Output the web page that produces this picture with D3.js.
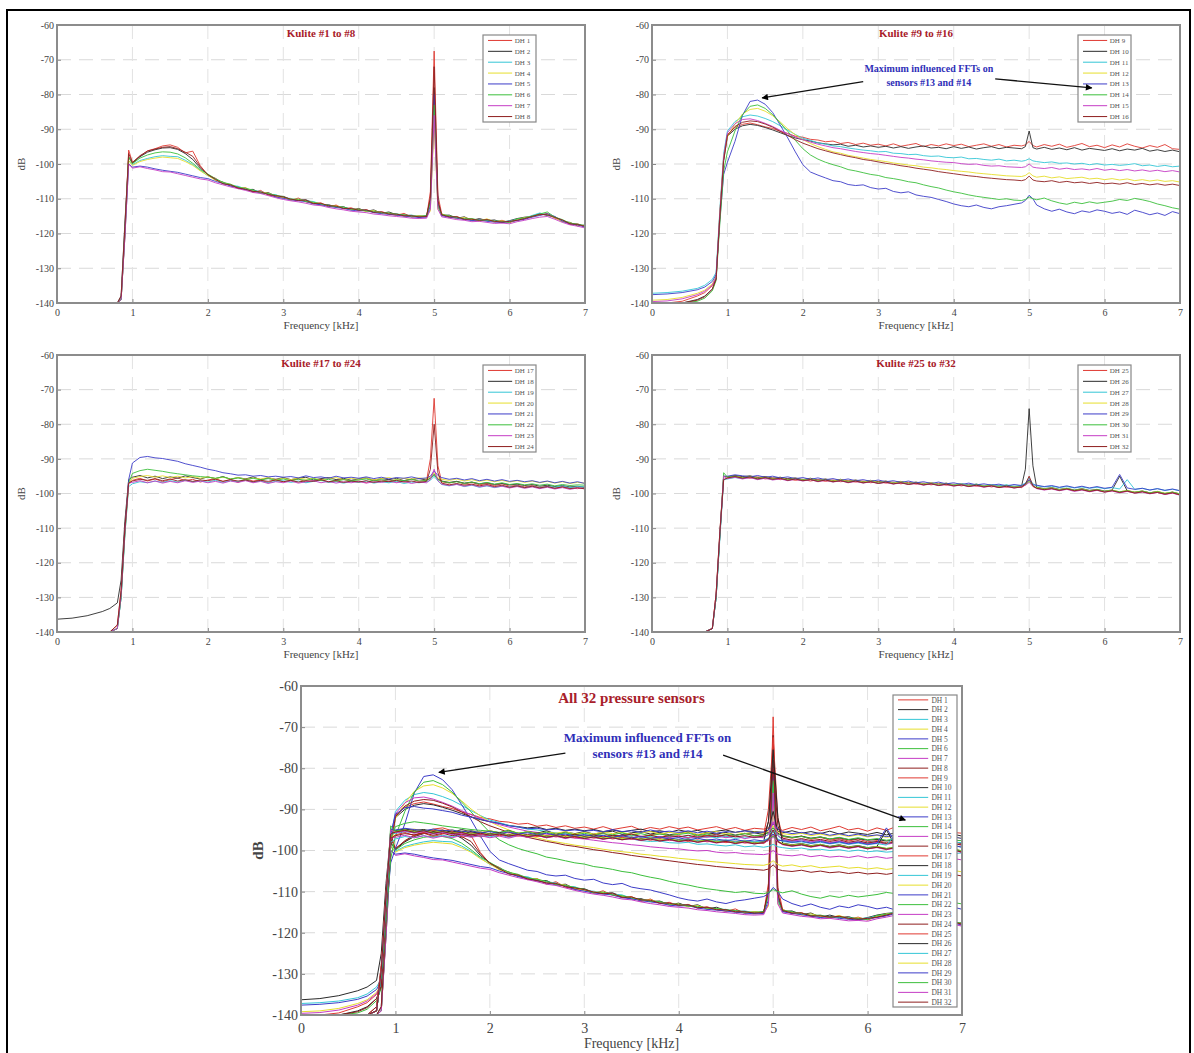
<!DOCTYPE html>
<html>
<head>
<meta charset="UTF-8">
<title>Kulite pressure sensor FFTs</title>
<script src="https://d3js.org/d3.v7.min.js"></script>
<style>
body { margin: 0; background: #fff; }
svg text { font-family: "Liberation Serif", "DejaVu Serif", serif; }
</style>
</head>
<body>
<figure class=chart style="margin:0"></figure>

<script type="text/javascript">

/* Data : frequency grid (kHz) and FFT level (dB) of every sensor on it */
var freqKHz = [0, 0.2, 0.4, 0.6, 0.7, 0.8, 0.85, 0.9, 0.95,
	1.0, 1.1, 1.2, 1.3, 1.4, 1.5, 1.6, 1.7, 1.8, 1.9,
	2.0, 2.1, 2.2, 2.3, 2.4, 2.5, 2.6, 2.7, 2.8, 2.9,
	3.0, 3.1, 3.2, 3.3, 3.4, 3.5, 3.6, 3.7, 3.8, 3.9,
	4.0, 4.1, 4.2, 4.3, 4.4, 4.5, 4.6, 4.7, 4.8,
	4.9, 4.95, 5.0, 5.05,
	5.1, 5.2, 5.3, 5.4, 5.5, 5.6, 5.7, 5.8, 5.9, 6.0,
	6.1, 6.2, 6.3, 6.4, 6.5, 6.6, 6.7, 6.8, 6.9, 7.0];

// Kulite #1 to #8
var dh1 = [-140,-140,-140,-140,-140,-140,-139,-120,-96,
	-99.5,-97.8,-96.2,-95.6,-94.8,-94.5,-95.2,-96.8,-96.3,-100.5,
	-103.2,-104.1,-105.6,-105.9,-107.1,-106.8,-108.2,-107.6,-108.9,-109.4,
	-109.6,-110.4,-109.8,-110.9,-111.3,-111.2,-112.4,-111.8,-112.9,-112.6,
	-113.4,-113.1,-114.0,-113.7,-114.3,-114.8,-114.2,-115.3,-114.9,
	-115.2,-108.0,-67.5,-109.0,
	-114.3,-115.4,-115.1,-116.0,-115.8,-116.4,-115.9,-116.7,-116.2,-116.9,
	-116.1,-115.8,-114.9,-114.7,-114.2,-115.6,-116.3,-117.4,-117.2,-118.1];
var dh2 = [-140,-140,-140,-140,-140,-140,-138,-117,-98,
	-99.8,-97.9,-96.6,-95.9,-95.4,-95.3,-95.8,-97.0,-98.7,-101.2,
	-103.0,-104.6,-105.2,-106.3,-106.6,-107.4,-107.3,-108.4,-108.2,-109.3,
	-109.3,-110.2,-110.4,-110.3,-111.2,-111.8,-111.7,-112.4,-112.3,-113.2,
	-112.8,-113.6,-113.2,-114.2,-113.8,-114.6,-114.7,-114.8,-115.3,
	-114.8,-110.5,-78.0,-111.0,
	-114.8,-114.7,-115.6,-115.2,-116.2,-115.7,-116.3,-116.1,-116.8,-116.3,
	-115.7,-115.3,-115.1,-114.3,-114.8,-115.2,-116.6,-116.8,-117.8,-117.6];
var dh3 = [-140,-140,-140,-140,-140,-140,-139,-119,-99,
	-100.2,-99.0,-98.4,-97.9,-97.6,-97.8,-97.9,-98.9,-100.2,-101.8,
	-103.4,-104.3,-105.4,-106.2,-106.4,-107.2,-107.6,-107.9,-108.7,-108.8,
	-109.8,-109.9,-110.3,-110.6,-110.8,-111.6,-111.9,-112.2,-112.6,-112.9,
	-113.2,-113.3,-113.8,-113.9,-114.4,-114.3,-115.0,-114.7,-115.1,
	-115.0,-113.0,-85.0,-112.5,
	-114.6,-115.2,-115.4,-115.7,-116.1,-116.0,-116.2,-116.4,-116.6,-116.4,
	-115.9,-115.6,-114.8,-114.1,-114.6,-115.4,-116.2,-117.1,-117.4,-117.9];
var dh4 = [-140,-140,-140,-140,-140,-140,-139,-121,-99,
	-100.4,-99.3,-98.7,-98.3,-98.0,-98.2,-98.4,-99.3,-100.4,-102.0,
	-103.3,-104.7,-105.3,-106.0,-106.8,-106.9,-107.8,-108.1,-108.4,-109.2,
	-109.7,-110.1,-110.2,-110.7,-111.1,-111.4,-112.1,-112.0,-112.7,-113.1,
	-113.0,-113.7,-113.4,-114.1,-114.2,-114.6,-114.9,-115.1,-114.9,
	-115.1,-113.5,-88.0,-113.0,
	-114.4,-115.1,-115.7,-115.4,-116.0,-116.3,-115.8,-116.6,-116.4,-116.7,
	-116.0,-115.4,-115.2,-114.6,-114.4,-115.5,-116.5,-116.9,-117.6,-117.8];
var dh5 = [-140,-140,-140,-140,-140,-140,-139,-121,-100,
	-100.9,-100.6,-100.9,-101.4,-101.8,-102.1,-102.4,-102.9,-103.4,-103.9,
	-104.2,-105.0,-105.6,-106.3,-106.9,-107.3,-107.9,-108.3,-108.6,-109.5,
	-109.9,-110.3,-110.6,-110.8,-111.5,-111.7,-112.2,-112.5,-112.8,-113.3,
	-113.5,-113.4,-114.0,-114.3,-114.5,-114.7,-115.0,-115.2,-115.4,
	-115.3,-112.0,-80.0,-111.5,
	-114.9,-115.3,-115.6,-116.0,-116.3,-116.1,-116.5,-116.7,-116.9,-116.6,
	-116.3,-115.9,-115.3,-114.8,-114.3,-115.1,-116.4,-117.2,-117.5,-118.2];
var dh6 = [-140,-140,-140,-140,-140,-140,-139,-120,-98,
	-99.9,-98.3,-97.4,-96.8,-96.5,-96.6,-97.1,-98.2,-99.8,-101.6,
	-102.9,-104.2,-105.3,-105.8,-106.7,-107.0,-107.5,-108.3,-108.5,-109.0,
	-109.4,-110.3,-110.1,-110.8,-111.0,-111.5,-111.9,-112.3,-112.4,-113.0,
	-113.1,-113.5,-113.6,-114.0,-114.1,-114.4,-114.6,-115.0,-115.0,
	-114.9,-111.0,-83.0,-112.0,
	-114.5,-114.9,-115.3,-115.8,-115.7,-116.2,-116.1,-116.4,-116.5,-116.8,
	-115.8,-115.5,-115.0,-114.4,-113.8,-115.3,-116.0,-117.0,-117.3,-117.7];
var dh7 = [-140,-140,-140,-140,-140,-140,-139,-121,-100,
	-101.2,-100.8,-101.3,-101.7,-102.2,-102.3,-102.8,-103.3,-103.8,-104.3,
	-104.6,-105.4,-106.0,-106.6,-107.1,-107.6,-108.2,-108.5,-109.1,-109.7,
	-110.2,-110.6,-110.9,-111.3,-111.8,-112.0,-112.5,-112.9,-113.2,-113.6,
	-113.8,-114.0,-114.4,-114.6,-114.9,-115.1,-115.3,-115.6,-115.7,
	-115.6,-113.0,-86.0,-113.0,
	-115.2,-115.6,-116.0,-116.2,-116.6,-116.5,-116.8,-117.1,-117.0,-117.2,
	-116.6,-116.2,-115.7,-115.3,-115.1,-115.9,-116.8,-117.5,-117.9,-118.4];
var dh8 = [-140,-140,-140,-140,-140,-140,-138,-118,-97,
	-99.6,-97.6,-96.3,-95.7,-95.2,-95.0,-95.6,-96.6,-97.8,-100.8,
	-103.1,-104.4,-105.7,-106.0,-106.9,-107.3,-107.9,-108.0,-108.8,-109.1,
	-109.5,-110.1,-110.5,-110.4,-111.4,-111.3,-112.0,-112.1,-112.8,-112.8,
	-113.3,-113.2,-113.9,-113.8,-114.4,-114.4,-114.9,-114.9,-115.2,
	-115.1,-109.5,-72.0,-110.5,
	-114.6,-115.2,-115.2,-115.9,-115.9,-116.2,-116.0,-116.5,-116.7,-116.5,
	-116.2,-115.7,-115.1,-114.5,-114.6,-115.4,-116.1,-117.2,-117.4,-117.9];

// Kulite #9 to #16
var dh9 = [-140,-140,-139.5,-138,-137,-135,-133,-115,-98,
	-91.5,-89.5,-88.6,-88.2,-88.7,-89.3,-89.8,-90.6,-91.2,-92.0,
	-92.3,-92.9,-93.1,-93.6,-93.4,-94.1,-93.8,-94.4,-94.0,-94.6,
	-94.3,-94.8,-94.2,-94.9,-94.5,-94.1,-95.0,-94.4,-94.8,-94.2,
	-94.7,-94.3,-95.0,-94.6,-94.2,-94.9,-94.4,-95.1,-94.6,
	-94.8,-94.5,-93.5,-94.7,
	-95.1,-94.4,-94.9,-94.3,-95.2,-94.7,-94.1,-95.0,-94.6,-95.3,
	-94.5,-95.1,-94.2,-94.9,-95.4,-94.7,-95.2,-94.4,-95.6,-95.8];
var dh10 = [-140,-140,-140,-139,-138,-136,-133,-114,-99,
	-92.0,-90.0,-89.0,-88.6,-88.9,-89.5,-90.2,-91.0,-91.8,-92.5,
	-93.0,-93.4,-93.9,-94.2,-94.5,-94.3,-94.9,-94.6,-95.1,-94.8,
	-95.2,-94.9,-95.4,-95.0,-95.5,-95.1,-94.8,-95.4,-95.2,-95.6,
	-95.0,-95.5,-95.1,-95.7,-95.3,-95.0,-95.6,-95.2,-95.4,
	-95.6,-95.0,-90.5,-95.3,
	-95.7,-95.2,-95.8,-95.4,-95.9,-95.3,-96.0,-95.5,-95.8,-96.1,
	-95.6,-96.2,-95.7,-96.0,-95.5,-96.3,-95.9,-96.4,-96.0,-96.5];
var dh11 = [-137.2,-137.0,-136.6,-135.8,-134.9,-133.2,-131.2,-113,-97,
	-90.5,-87.8,-86.4,-85.9,-86.2,-86.9,-87.8,-89.0,-90.3,-91.5,
	-92.6,-93.2,-93.9,-94.3,-94.8,-95.0,-95.4,-95.7,-96.0,-96.2,
	-96.5,-96.4,-96.9,-97.0,-97.3,-97.2,-97.6,-97.8,-97.7,-98.1,
	-98.2,-98.0,-98.5,-98.4,-98.7,-98.9,-98.6,-99.1,-98.9,
	-99.2,-99.0,-98.5,-99.1,
	-99.3,-99.6,-99.4,-99.8,-99.7,-100.0,-99.8,-100.2,-99.9,-100.3,
	-100.1,-100.4,-100.2,-99.9,-100.5,-100.3,-100.7,-100.4,-100.8,-100.6];
var dh12 = [-139.2,-139.0,-138.4,-137.2,-136.3,-134.5,-132.3,-114,-98,
	-92.2,-88.5,-85.6,-84.3,-84.0,-84.8,-86.1,-87.9,-89.9,-91.6,
	-93.0,-94.1,-95.0,-95.8,-96.5,-96.9,-97.5,-97.9,-98.3,-98.7,
	-99.0,-99.3,-99.7,-100.0,-100.3,-100.5,-100.9,-101.1,-101.4,-101.6,
	-101.9,-102.1,-102.3,-102.6,-102.8,-103.0,-103.2,-103.4,-103.5,
	-103.6,-103.3,-102.5,-103.4,
	-103.8,-103.5,-104.0,-103.7,-104.2,-104.0,-103.8,-104.3,-104.1,-104.5,
	-104.2,-104.6,-104.3,-104.8,-104.5,-104.9,-104.6,-105.0,-104.8,-105.2];
var dh13 = [-137.6,-137.4,-137.0,-136.2,-135.4,-133.8,-131.8,-116,-103,
	-99.5,-93.5,-86.0,-82.0,-81.6,-82.8,-85.2,-88.8,-92.5,-96.5,
	-100.2,-102.3,-103.2,-104.0,-104.8,-105.1,-105.9,-106.2,-106.0,-106.8,
	-107.2,-107.0,-107.9,-108.3,-108.0,-108.9,-109.3,-109.6,-110.2,-110.8,
	-111.5,-112.0,-112.3,-111.8,-112.5,-112.9,-112.3,-112.0,-111.6,
	-111.2,-110.5,-109.0,-110.0,
	-111.8,-112.9,-113.6,-113.0,-113.8,-114.3,-113.5,-113.9,-113.2,-113.6,
	-114.2,-113.8,-114.5,-113.3,-113.9,-114.6,-114.1,-114.8,-113.7,-114.3];
var dh14 = [-140,-140,-140,-139.5,-138.6,-136.5,-133.5,-117,-102,
	-96.5,-90.5,-85.8,-83.4,-83.0,-84.0,-85.8,-88.2,-90.6,-93.2,
	-95.6,-97.4,-98.6,-99.5,-100.2,-100.8,-101.6,-102.0,-102.5,-103.0,
	-103.3,-103.9,-104.2,-104.6,-105.1,-105.4,-106.0,-106.5,-106.9,-107.5,
	-108.0,-108.4,-108.9,-109.3,-109.6,-109.9,-110.2,-110.0,-110.4,
	-110.5,-110.2,-109.5,-110.0,
	-110.3,-109.8,-110.6,-111.2,-111.6,-111.0,-111.4,-110.9,-111.3,-111.0,
	-110.7,-110.2,-110.5,-109.9,-110.3,-110.8,-111.5,-112.0,-112.6,-113.0];
var dh15 = [-139.6,-139.4,-138.8,-137.6,-136.6,-134.8,-132.6,-114,-98,
	-91.0,-88.4,-87.2,-87.0,-87.5,-88.3,-89.2,-90.3,-91.3,-92.2,
	-93.0,-93.7,-94.3,-94.8,-95.3,-95.6,-96.0,-96.4,-96.7,-97.0,
	-97.2,-97.5,-97.8,-98.1,-98.3,-98.6,-98.8,-99.1,-99.3,-99.5,
	-99.6,-99.9,-100.1,-100.0,-100.4,-100.6,-100.5,-100.8,-100.9,
	-101.0,-100.8,-100.0,-100.9,
	-101.1,-101.3,-101.0,-101.5,-101.2,-101.6,-101.4,-101.7,-101.3,-101.8,
	-101.5,-101.9,-101.6,-102.0,-101.7,-102.1,-101.8,-102.2,-101.9,-102.3];
var dh16 = [-140,-140,-140,-139.2,-138.2,-136.0,-133.2,-115,-99,
	-91.8,-89.2,-88.0,-87.6,-87.8,-88.5,-89.4,-90.6,-91.8,-93.0,
	-94.0,-94.8,-95.6,-96.2,-96.8,-97.3,-97.8,-98.2,-98.7,-99.0,
	-99.4,-99.8,-100.1,-100.5,-100.8,-101.2,-101.5,-101.8,-102.2,-102.5,
	-102.8,-103.1,-103.4,-103.6,-103.9,-104.1,-104.3,-104.5,-104.6,
	-104.8,-104.5,-103.5,-104.6,
	-104.9,-105.1,-104.8,-105.3,-105.0,-105.4,-105.2,-105.6,-105.3,-105.7,
	-105.5,-105.8,-105.4,-105.9,-105.6,-106.0,-105.7,-106.1,-105.8,-106.2];

// Kulite #17 to #24
var dh17 = [-140,-140,-140,-140,-140,-138,-128,-110,-97,
	-96.2,-95.6,-96.4,-95.8,-96.6,-96.0,-95.5,-96.3,-95.9,-96.7,
	-96.1,-95.7,-96.5,-96.0,-96.8,-95.8,-96.4,-96.1,-96.9,-95.9,
	-96.6,-96.2,-95.8,-96.7,-96.3,-96.0,-96.8,-96.2,-95.9,-96.6,
	-96.4,-96.9,-96.1,-96.5,-96.0,-96.7,-96.3,-95.8,-96.5,
	-96.2,-90.0,-72.5,-92.0,
	-96.6,-97.0,-96.5,-97.3,-96.8,-97.5,-97.1,-97.7,-97.2,-97.9,
	-97.6,-98.1,-97.7,-98.3,-97.9,-98.5,-98.0,-98.4,-98.6,-98.3];
var dh18 = [-136.3,-136.0,-135.3,-134.1,-133.2,-131.6,-125,-108,-96,
	-95.3,-94.8,-95.5,-95.0,-95.7,-95.2,-95.6,-94.9,-95.4,-95.8,
	-95.2,-95.7,-95.1,-95.9,-95.4,-95.8,-95.2,-96.0,-95.5,-95.9,
	-95.4,-96.0,-95.6,-95.3,-96.1,-95.7,-95.4,-96.0,-95.6,-96.2,
	-95.8,-95.5,-96.2,-95.7,-96.0,-95.6,-96.3,-95.9,-95.7,
	-96.1,-95.6,-94.5,-95.8,
	-96.4,-96.8,-96.5,-97.0,-96.7,-97.2,-96.9,-97.4,-97.1,-97.5,
	-97.3,-97.7,-97.4,-97.9,-97.6,-98.0,-97.7,-98.1,-97.9,-98.2];
var dh19 = [-140,-140,-140,-140,-140,-139,-130,-112,-98,
	-97.2,-96.6,-96.9,-96.4,-96.8,-96.3,-96.7,-96.2,-96.6,-96.4,
	-96.7,-96.2,-96.8,-96.3,-96.6,-96.1,-96.7,-96.4,-96.9,-96.5,
	-96.3,-96.8,-96.4,-96.9,-96.5,-96.2,-96.8,-96.6,-97.0,-96.5,
	-96.8,-96.4,-97.0,-96.6,-96.9,-96.5,-97.1,-96.7,-96.9,
	-96.6,-96.2,-95.0,-96.4,
	-97.4,-97.8,-97.3,-98.0,-97.6,-98.2,-97.8,-98.3,-97.9,-98.1,
	-97.8,-98.3,-97.9,-98.4,-98.0,-98.2,-97.8,-98.3,-98.0,-98.1];
var dh20 = [-140,-140,-140,-140,-140,-139,-129,-111,-97,
	-95.6,-95.1,-94.8,-95.3,-94.9,-95.4,-95.0,-95.5,-95.1,-95.6,
	-95.2,-95.7,-95.3,-95.8,-95.4,-95.9,-95.5,-95.8,-95.4,-96.0,
	-95.6,-96.0,-95.5,-95.9,-95.6,-96.1,-95.7,-95.4,-96.0,-95.6,
	-95.9,-95.5,-96.1,-95.7,-95.4,-96.0,-95.6,-95.9,-95.5,
	-95.8,-95.3,-94.0,-95.5,
	-95.9,-96.2,-95.8,-96.4,-96.0,-96.5,-96.1,-96.6,-96.2,-96.7,
	-96.3,-96.8,-96.4,-96.9,-96.5,-97.0,-96.6,-97.1,-96.8,-97.0];
var dh21 = [-140,-140,-140,-140,-140,-139,-130,-111,-96,
	-91.2,-89.6,-89.3,-89.7,-89.9,-90.3,-90.7,-91.4,-91.9,-92.4,
	-93.0,-93.4,-94.0,-94.3,-94.7,-94.6,-95.0,-94.8,-95.2,-95.0,
	-95.3,-95.1,-95.5,-94.9,-95.4,-95.2,-95.6,-95.0,-95.5,-95.3,
	-95.6,-95.2,-95.7,-95.3,-95.8,-95.4,-95.6,-95.2,-95.7,
	-95.5,-95.0,-93.5,-94.8,
	-95.4,-95.9,-95.6,-96.1,-95.7,-96.3,-95.9,-96.4,-96.0,-96.5,
	-96.2,-96.6,-96.3,-96.8,-96.4,-96.9,-96.5,-97.0,-96.6,-97.1];
var dh22 = [-140,-140,-140,-140,-140,-139,-130,-112,-97,
	-94.2,-93.4,-93.0,-93.3,-93.6,-94.0,-94.3,-94.6,-94.9,-95.1,
	-95.3,-95.6,-95.2,-95.8,-95.5,-96.0,-95.6,-96.1,-95.7,-96.2,
	-95.8,-96.3,-95.9,-96.2,-95.7,-96.3,-95.9,-96.4,-96.0,-96.3,
	-96.1,-95.8,-96.4,-96.0,-96.5,-96.1,-96.3,-95.9,-96.4,
	-96.2,-95.7,-94.5,-96.0,
	-96.5,-96.9,-96.6,-97.1,-96.7,-97.2,-96.8,-97.3,-96.9,-97.4,
	-97.1,-97.5,-97.2,-97.6,-97.3,-97.8,-97.4,-97.7,-97.5,-97.6];
var dh23 = [-140,-140,-140,-140,-140,-139,-129,-111,-97,
	-96.8,-96.3,-96.9,-96.4,-97.0,-96.5,-96.9,-96.3,-96.8,-96.4,
	-96.9,-96.5,-97.0,-96.4,-96.8,-96.3,-96.9,-96.5,-97.1,-96.6,
	-96.9,-96.4,-97.0,-96.6,-96.3,-96.9,-96.5,-97.0,-96.6,-96.9,
	-96.5,-97.0,-96.6,-96.8,-96.4,-96.9,-96.5,-97.1,-96.7,
	-96.9,-96.0,-93.0,-96.3,
	-97.3,-97.7,-97.4,-97.9,-97.5,-98.1,-97.7,-98.2,-97.9,-98.4,
	-98.0,-98.5,-98.1,-98.6,-98.2,-98.7,-98.3,-98.8,-98.4,-98.6];
var dh24 = [-140,-140,-140,-140,-140,-138,-128,-110,-97,
	-96.4,-95.9,-96.2,-95.7,-96.3,-95.8,-96.4,-96.0,-96.5,-96.1,
	-96.3,-95.9,-96.5,-96.0,-96.4,-96.1,-96.6,-96.2,-96.5,-96.1,
	-96.6,-96.2,-96.7,-96.3,-96.5,-96.0,-96.6,-96.3,-96.8,-96.4,
	-96.7,-96.3,-96.8,-96.4,-96.6,-96.2,-96.7,-96.4,-96.8,
	-96.5,-93.0,-80.0,-94.0,
	-97.0,-97.5,-97.1,-97.6,-97.3,-97.8,-97.4,-98.0,-97.6,-98.2,
	-97.8,-98.3,-97.9,-98.4,-98.0,-98.5,-98.1,-98.6,-98.3,-98.7];

// Kulite #25 to #32
var dh25 = [-140,-140,-140,-140,-140,-139,-129,-112,-96,
	-95.6,-95.0,-95.3,-95.6,-95.2,-95.8,-95.5,-96.0,-95.7,-96.2,
	-95.9,-96.4,-96.0,-96.5,-96.1,-96.6,-96.3,-96.7,-96.4,-96.9,
	-96.5,-97.0,-96.7,-97.2,-96.8,-97.3,-97.0,-97.5,-97.1,-97.6,
	-97.3,-97.8,-97.4,-97.9,-97.6,-98.1,-97.7,-98.2,-97.9,
	-98.3,-97.5,-96.0,-98.0,
	-98.4,-98.8,-98.5,-99.0,-98.6,-99.2,-98.8,-99.3,-99.0,-99.5,
	-99.1,-99.6,-99.3,-99.8,-99.4,-100.0,-99.6,-100.2,-99.8,-100.4];
var dh26 = [-140,-140,-140,-140,-140,-139,-130,-112,-95,
	-95.2,-94.8,-95.1,-94.9,-95.4,-95.1,-95.6,-95.3,-95.8,-95.5,
	-96.0,-95.6,-96.2,-95.8,-96.3,-95.9,-96.5,-96.1,-96.6,-96.2,
	-96.7,-96.4,-96.9,-96.5,-97.1,-96.7,-97.2,-96.9,-97.4,-97.0,
	-97.5,-97.2,-97.7,-97.3,-97.8,-97.5,-98.0,-97.6,-98.1,
	-97.8,-93.0,-75.5,-92.0,
	-98.2,-98.6,-98.3,-98.8,-98.5,-99.0,-98.6,-99.1,-98.8,-99.3,
	-99.0,-95.0,-99.2,-99.6,-99.3,-99.8,-99.4,-100.0,-99.6,-100.1];
var dh27 = [-140,-140,-140,-140,-140,-139,-130,-113,-96,
	-95.8,-95.4,-95.7,-95.3,-95.9,-95.5,-96.0,-95.6,-96.1,-95.8,
	-96.2,-95.9,-96.4,-96.0,-96.5,-96.2,-96.7,-96.3,-96.8,-96.4,
	-96.9,-96.5,-97.0,-96.7,-97.2,-96.8,-97.3,-97.0,-97.4,-97.1,
	-97.5,-97.2,-97.6,-97.3,-97.7,-97.4,-97.8,-97.5,-97.9,
	-97.6,-97.0,-95.5,-97.2,
	-97.8,-98.1,-97.9,-98.3,-98.0,-98.4,-98.1,-98.5,-98.2,-98.6,
	-98.3,-98.7,-96.0,-98.8,-98.5,-99.0,-98.6,-99.1,-98.8,-99.2];
var dh28 = [-140,-140,-140,-140,-140,-139,-129,-111,-95,
	-95.4,-95.0,-95.4,-95.1,-95.6,-95.3,-95.8,-95.5,-96.0,-95.7,
	-96.1,-95.8,-96.3,-95.9,-96.4,-96.0,-96.5,-96.2,-96.7,-96.3,
	-96.8,-96.5,-97.0,-96.6,-97.1,-96.8,-97.3,-96.9,-97.4,-97.1,
	-97.6,-97.3,-97.8,-97.4,-97.9,-97.6,-98.1,-97.7,-98.2,
	-97.9,-97.4,-96.5,-97.7,
	-98.3,-98.7,-98.4,-98.9,-98.5,-99.1,-98.7,-99.2,-98.9,-99.4,
	-99.0,-99.5,-99.1,-99.6,-99.3,-99.8,-99.4,-99.9,-99.6,-100.1];
var dh29 = [-140,-140,-140,-140,-140,-139,-130,-112,-95,
	-95.0,-94.6,-94.9,-95.2,-94.8,-95.3,-95.0,-95.5,-95.2,-95.7,
	-95.4,-95.9,-95.5,-96.0,-95.7,-96.2,-95.8,-96.3,-96.0,-96.5,
	-96.1,-96.6,-96.3,-96.8,-96.4,-96.9,-96.6,-97.1,-96.7,-97.2,
	-96.9,-97.4,-97.0,-97.5,-97.2,-97.6,-97.3,-97.8,-97.4,
	-97.7,-97.2,-96.0,-97.5,
	-97.6,-98.0,-97.7,-98.2,-97.8,-98.3,-97.9,-98.4,-98.0,-98.5,
	-98.2,-94.5,-98.4,-98.8,-98.5,-99.0,-98.6,-99.1,-98.7,-99.2];
var dh30 = [-140,-140,-140,-140,-140,-139,-130,-112,-94,
	-95.3,-95.0,-95.5,-95.2,-95.7,-95.4,-95.9,-95.6,-96.1,-95.8,
	-96.2,-95.9,-96.4,-96.1,-96.6,-96.2,-96.7,-96.4,-96.9,-96.5,
	-97.0,-96.7,-97.2,-96.8,-97.3,-97.0,-97.5,-97.1,-97.6,-97.3,
	-97.7,-97.4,-97.9,-97.5,-98.0,-97.7,-98.2,-97.8,-98.3,
	-98.0,-97.5,-96.5,-97.8,
	-98.4,-98.8,-98.5,-99.0,-98.6,-99.1,-98.8,-99.3,-98.9,-99.4,
	-99.1,-99.5,-99.2,-99.7,-99.3,-99.8,-99.5,-100.0,-99.6,-100.2];
var dh31 = [-140,-140,-140,-140,-140,-139,-129,-111,-95,
	-95.7,-95.3,-95.8,-95.4,-96.0,-95.6,-96.1,-95.8,-96.3,-95.9,
	-96.4,-96.0,-96.6,-96.2,-96.7,-96.3,-96.9,-96.5,-97.0,-96.6,
	-97.1,-96.8,-97.3,-96.9,-97.4,-97.1,-97.6,-97.2,-97.7,-97.4,
	-97.9,-97.5,-98.0,-97.7,-98.2,-97.8,-98.3,-98.0,-98.4,
	-98.1,-97.6,-96.8,-97.9,
	-98.6,-99.0,-98.7,-99.2,-98.8,-99.4,-99.0,-99.5,-99.1,-99.6,
	-99.3,-99.8,-99.4,-99.9,-99.6,-100.1,-99.7,-100.3,-99.9,-100.5];
var dh32 = [-140,-140,-140,-140,-140,-139,-129,-111,-96,
	-95.5,-95.1,-95.6,-95.2,-95.8,-95.4,-95.9,-95.6,-96.2,-95.8,
	-96.3,-96.0,-96.5,-96.1,-96.6,-96.3,-96.8,-96.4,-96.9,-96.6,
	-97.1,-96.7,-97.2,-96.9,-97.4,-97.0,-97.5,-97.2,-97.7,-97.3,
	-97.8,-97.5,-98.0,-97.6,-98.1,-97.8,-98.3,-97.9,-98.4,
	-98.1,-97.3,-95.0,-97.8,
	-98.5,-98.9,-98.6,-99.1,-98.7,-99.2,-98.9,-99.4,-99.0,-99.6,
	-99.2,-99.7,-99.3,-99.9,-99.5,-100.0,-99.7,-100.2,-99.8,-100.4];

var sensorSeries = [dh1, dh2, dh3, dh4, dh5, dh6, dh7, dh8,
	dh9, dh10, dh11, dh12, dh13, dh14, dh15, dh16,
	dh17, dh18, dh19, dh20, dh21, dh22, dh23, dh24,
	dh25, dh26, dh27, dh28, dh29, dh30, dh31, dh32];
var sensorNames = sensorSeries.map(function(d, i) { return 'DH ' + (i + 1); });

var xTicks = [0, 1, 2, 3, 4, 5, 6, 7];
var yTicks = [-60, -70, -80, -90, -100, -110, -120, -130, -140];
var annotationLines = ['Maximum influenced FFTs on', 'sensors #13 and #14'];

/* Global variables */
var W = 1194, H = 1053
var lineColor = ['#e03a32', '#2a2a2a', '#34c6d6', '#e6de2c', '#3c3cc8', '#3cbf3c', '#c53cc5', '#8e1e1e']

// plot boxes in pixels, sensors drawn in each, legend box relative to plot
var panels = [
	{ x0: 57, x1: 585, y0: 25, y1: 303, title: 'Kulite #1 to #8', first: 0, count: 8, big: false },
	{ x0: 652, x1: 1180, y0: 25, y1: 303, title: 'Kulite #9 to #16', first: 8, count: 8, big: false,
		arrowTo: [5.83, -78.1], arrowFrom: [4.55, -75.5] },
	{ x0: 57, x1: 585, y0: 355, y1: 632, title: 'Kulite #17 to #24', first: 16, count: 8, big: false },
	{ x0: 652, x1: 1180, y0: 355, y1: 632, title: 'Kulite #25 to #32', first: 24, count: 8, big: false },
	{ x0: 301, x1: 962, y0: 686, y1: 1015, title: 'All 32 pressure sensors', first: 0, count: 32, big: true,
		arrowTo: [6.4, -92.6], arrowFrom: [4.47, -76.8] }
]

/* Functions */

function draw_canvas() {
	var svg = d3.select('figure')
		.append('svg')
		.attr('width', W)
		.attr('height', H)

	svg.append('rect')
		.attr('width', W)
		.attr('height', H)
		.style('fill', '#fff')

	svg.append('rect')
		.attr('x', 7)
		.attr('y', 10)
		.attr('width', 1183)
		.attr('height', 1060)
		.style('fill', 'none')
		.style('stroke', '#000')
		.style('stroke-width', 2)

	var defs = svg.append('defs')
	defs.append('marker')
		.attr('id', 'arrowhead')
		.attr('viewBox', '0 0 10 10')
		.attr('refX', 9)
		.attr('refY', 5)
		.attr('markerWidth', 7)
		.attr('markerHeight', 5)
		.attr('orient', 'auto')
		.append('path')
		.attr('d', 'M0,0 L10,5 L0,10 z')
		.style('fill', '#000')
	return svg
}

function draw_panel(svg, p, k) {
	var x = d3.scaleLinear().domain([0, 7]).range([p.x0, p.x1])
	var y = d3.scaleLinear().domain([-140, -60]).range([p.y1, p.y0])
	var fs = p.big ? 14 : 10
	var g = svg.append('g')

	// grid
	g.selectAll('.hgrid')
		.data(yTicks.slice(1, -1))
		.enter()
		.append('line')
		.attr('x1', p.x0).attr('x2', p.x1)
		.attr('y1', function(d) { return y(d); })
		.attr('y2', function(d) { return y(d); })
		.style('stroke', '#d9d9d9')
		.style('stroke-dasharray', '14,8')
	g.selectAll('.vgrid')
		.data(xTicks.slice(1, -1))
		.enter()
		.append('line')
		.attr('y1', p.y0).attr('y2', p.y1)
		.attr('x1', function(d) { return x(d); })
		.attr('x2', function(d) { return x(d); })
		.style('stroke', '#e2e2e2')
		.style('stroke-dasharray', '14,8')

	// spectra
	svg.append('clipPath')
		.attr('id', 'clip' + k)
		.append('rect')
		.attr('x', p.x0).attr('y', p.y0 - 1)
		.attr('width', p.x1 - p.x0).attr('height', p.y1 - p.y0 + 1)

	var line = d3.line()
		.x(function(d, i) { return x(freqKHz[i]); })
		.y(function(d) { return y(d); })

	g.append('g')
		.attr('clip-path', 'url(#clip' + k + ')')
		.selectAll('path')
		.data(sensorSeries.slice(p.first, p.first + p.count))
		.enter()
		.append('path')
		.attr('d', line)
		.style('fill', 'none')
		.style('stroke', function(d, i) { return lineColor[(p.first + i) % 8]; })
		.style('stroke-width', p.big ? 1 : 0.9)
		.style('stroke-linejoin', 'round')

	// axes
	var ax = g.append('g')
		.attr('transform', 'translate(0,' + p.y1 + ')')
		.call(d3.axisBottom(x).tickValues(xTicks).tickSizeInner(-4).tickSizeOuter(0).tickPadding(p.big ? 8 : 6).tickFormat(d3.format('d')))
	var ay = g.append('g')
		.attr('transform', 'translate(' + p.x0 + ',0)')
		.call(d3.axisLeft(y).tickValues(yTicks).tickSizeInner(-4).tickSizeOuter(0).tickPadding(3).tickFormat(function(d) { return String(d); }))
	;[ax, ay].forEach(function(a) {
		a.select('.domain').remove()
		a.selectAll('line').style('stroke', '#888')
		a.selectAll('text')
			.style('font-family', '"Liberation Serif", serif')
			.style('font-size', fs + 'px')
			.style('fill', '#444')
	})

	g.append('rect')
		.attr('x', p.x0).attr('y', p.y0)
		.attr('width', p.x1 - p.x0).attr('height', p.y1 - p.y0)
		.style('fill', 'none')
		.style('stroke', '#8c8c8c')
		.style('stroke-width', 2)

	// labels
	g.append('text')
		.attr('x', (p.x0 + p.x1) / 2)
		.attr('y', p.y1 + (p.big ? 33 : 26))
		.attr('text-anchor', 'middle')
		.style('font-size', (p.big ? 14 : 11) + 'px')
		.style('fill', '#444')
		.text('Frequency [kHz]')
	g.append('text')
		.attr('transform', 'translate(' + (p.x0 - (p.big ? 38 : 32)) + ',' + ((p.y0 + p.y1) / 2) + ') rotate(-90)')
		.attr('text-anchor', 'middle')
		.style('font-size', (p.big ? 15 : 11) + 'px')
		.style('font-weight', p.big ? 'bold' : 'normal')
		.style('fill', '#444')
		.text('dB')
	g.append('text')
		.attr('x', p.big ? x(3.5) : (p.x0 + p.x1) / 2)
		.attr('y', p.y0 + (p.big ? 17 : 12))
		.attr('text-anchor', 'middle')
		.style('font-size', (p.big ? 15 : 11) + 'px')
		.style('font-weight', 'bold')
		.style('fill', '#a8202a')
		.text(p.title)

	draw_legend(g, p)
	if (p.arrowTo) draw_annotation(g, p, x, y)
}

function draw_legend(g, p) {
	var names = sensorNames.slice(p.first, p.first + p.count)
	var bx = p.big ? p.x1 - 69 : p.x1 - 102
	var bw = p.big ? 64 : 53
	var by = p.y0 + (p.big ? 9 : 10)
	var bh = p.big ? 312 : 87
	var step = bh / names.length

	g.append('rect')
		.attr('x', bx).attr('y', by)
		.attr('width', bw).attr('height', bh)
		.style('fill', '#fff')
		.style('stroke', '#888')
		.style('stroke-width', 1.2)

	var item = g.selectAll('.leg' + p.first + p.count)
		.data(names)
		.enter()
		.append('g')
		.attr('transform', function(d, i) { return 'translate(' + bx + ',' + (by + step * (i + 0.5)) + ')'; })
	item.append('line')
		.attr('x1', 5).attr('x2', bw * 0.55)
		.style('stroke', function(d, i) { return lineColor[(p.first + i) % 8]; })
		.style('stroke-width', 1)
	item.append('text')
		.attr('x', bw * 0.6)
		.attr('dy', '0.35em')
		.style('font-size', (p.big ? 7.5 : 7) + 'px')
		.style('fill', '#555')
		.text(function(d) { return d; })
}

function draw_annotation(g, p, x, y) {
	var fs = p.big ? 13 : 10
	g.selectAll('.ann')
		.data(annotationLines)
		.enter()
		.append('text')
		.attr('x', x(3.67))
		.attr('y', function(d, i) { return y(i ? -76.5 : -72.5) + fs * 0.35; })
		.attr('text-anchor', 'middle')
		.style('font-size', fs + 'px')
		.style('font-weight', 'bold')
		.style('fill', '#2f2fb8')
		.text(function(d) { return d; })

	var arrows = [[[2.8, -76.3], [1.46, -81]], [p.arrowFrom, p.arrowTo]]
	g.selectAll('.arrow')
		.data(arrows)
		.enter()
		.append('line')
		.attr('x1', function(d) { return x(d[0][0]); })
		.attr('y1', function(d) { return y(d[0][1]); })
		.attr('x2', function(d) { return x(d[1][0]); })
		.attr('y2', function(d) { return y(d[1][1]); })
		.style('stroke', '#111')
		.style('stroke-width', 1.3)
		.attr('marker-end', 'url(#arrowhead)')
}

/* Main code */
var svg = draw_canvas()
panels.forEach(function(p, k) { draw_panel(svg, p, k); })

</script>
</body>
</html>
